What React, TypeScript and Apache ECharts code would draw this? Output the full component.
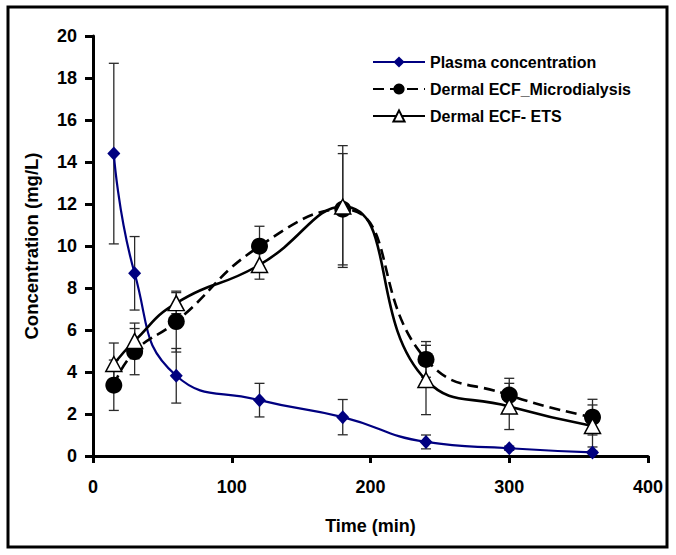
import React, { useEffect, useRef } from "react";
import * as echarts from "echarts";

const times = [15, 30, 60, 120, 180, 240, 300, 360];
const plasma = [14.4, 8.7, 3.82, 2.66, 1.85, 0.67, 0.37, 0.17];
const plasmaErr = [4.3, 1.75, 1.3, 0.8, 0.84, 0.33, 0.1, 0.06];
const micro = [3.37, 4.97, 6.4, 9.99, 11.75, 4.6, 2.9, 1.85];
const microErr = [1.2, 1.1, 1.45, 0.95, 2.65, 0.85, 0.8, 0.85];
const ets = [4.38, 5.48, 7.28, 9.1, 11.88, 3.62, 2.36, 1.43];
const etsErr = [1.0, 0.85, 0.5, 0.68, 2.9, 1.65, 1.1, 1.0];

const seriesNames = [
  "Plasma concentration",
  "Dermal ECF_Microdialysis",
  "Dermal ECF- ETS",
];

const FONT = "Arial, 'Liberation Sans', sans-serif";

function errData(vals: number[], errs: number[]) {
  return times.map((t, i) => [t, vals[i] - errs[i], vals[i] + errs[i]]);
}

function errSeries(vals: number[], errs: number[]) {
  return {
    type: "custom",
    silent: true,
    z: 1,
    data: errData(vals, errs),
    encode: { x: 0, y: [1, 2] },
    renderItem: (_params: any, api: any) => {
      const x = api.value(0);
      const lo = api.value(1);
      const hi = api.value(2);
      const top = api.coord([x, hi]);
      const bot = api.coord([x, lo]);
      const w = 5;
      const st = { stroke: "#2a2a2a", lineWidth: 1.3 };
      return {
        type: "group",
        children: [
          { type: "line", shape: { x1: top[0], y1: top[1], x2: bot[0], y2: bot[1] }, style: st },
          { type: "line", shape: { x1: top[0] - w, y1: top[1], x2: top[0] + w, y2: top[1] }, style: st },
          { type: "line", shape: { x1: bot[0] - w, y1: bot[1], x2: bot[0] + w, y2: bot[1] }, style: st },
        ],
      };
    },
  };
}

export default function App() {
  const ref = useRef<HTMLDivElement>(null);
  useEffect(() => {
    if (!ref.current) return;
    const chart = echarts.init(ref.current, undefined, { renderer: "svg" });
    const axisLabel = { color: "#000", fontSize: 18, fontWeight: "bold", fontFamily: FONT };
    chart.setOption({
      animation: false,
      backgroundColor: "#fff",
      grid: { left: 93, right: 28, top: 36, bottom: 99 },
      graphic: [
        {
          type: "rect",
          shape: { x: 8, y: 7, width: 659, height: 540 },
          style: { fill: "none", stroke: "#000", lineWidth: 3 },
          z: 0,
        },
      ],
      legend: {
        data: seriesNames,
        orient: "vertical",
        left: 367,
        top: 49,
        itemWidth: 52,
        itemHeight: 14,
        itemGap: 11,
        selectedMode: false,
        textStyle: { color: "#000", fontSize: 16, lineHeight: 16, fontWeight: "bold", fontFamily: FONT },
      },
      xAxis: {
        type: "value",
        min: 0,
        max: 400,
        interval: 100,
        name: "Time (min)",
        nameLocation: "middle",
        nameGap: 61,
        nameTextStyle: { color: "#000", fontSize: 18, fontWeight: "bold", fontFamily: FONT },
        axisLine: { lineStyle: { color: "#000", width: 3 } },
        axisTick: { show: true, length: 7, lineStyle: { color: "#000", width: 3 } },
        axisLabel: { ...axisLabel, margin: 22 },
        splitLine: { show: false },
      },
      yAxis: {
        type: "value",
        min: 0,
        max: 20,
        interval: 2,
        name: "Concentration (mg/L)",
        nameLocation: "middle",
        nameGap: 52,
        nameTextStyle: { color: "#000", fontSize: 18.5, fontWeight: "bold", fontFamily: FONT },
        axisLine: { show: true, lineStyle: { color: "#000", width: 3 } },
        axisTick: { show: true, length: 8, lineStyle: { color: "#000", width: 3 } },
        axisLabel: { ...axisLabel, margin: 16 },
        splitLine: { show: false },
      },
      series: [
        errSeries(plasma, plasmaErr),
        errSeries(micro, microErr),
        errSeries(ets, etsErr),
        {
          name: seriesNames[0],
          type: "line",
          smooth: 0.5,
          data: times.map((t, i) => [t, plasma[i]]),
          symbol: "diamond",
          symbolSize: [13, 14],
          itemStyle: { color: "#000080" },
          lineStyle: { color: "#000080", width: 2.2 },
          z: 3,
        },
        {
          name: seriesNames[1],
          type: "line",
          smooth: 0.5,
          data: times.map((t, i) => [t, micro[i]]),
          symbol: "circle",
          symbolSize: 17,
          itemStyle: { color: "#000" },
          lineStyle: { color: "#000", width: 2.6, type: [11, 6] },
          z: 4,
        },
        {
          name: seriesNames[2],
          type: "line",
          smooth: 0.5,
          data: times.map((t, i) => [t, ets[i]]),
          symbol: "triangle",
          symbolSize: [16, 15],
          itemStyle: { color: "#fff", borderColor: "#000", borderWidth: 1.5 },
          lineStyle: { color: "#000", width: 2.6 },
          z: 5,
        },
      ],
    });
    return () => chart.dispose();
  }, []);
  return (
    <div
      ref={ref}
      style={{ position: "fixed", left: 0, top: 0, width: 676, height: 555, background: "#fff" }}
    />
  );
}
